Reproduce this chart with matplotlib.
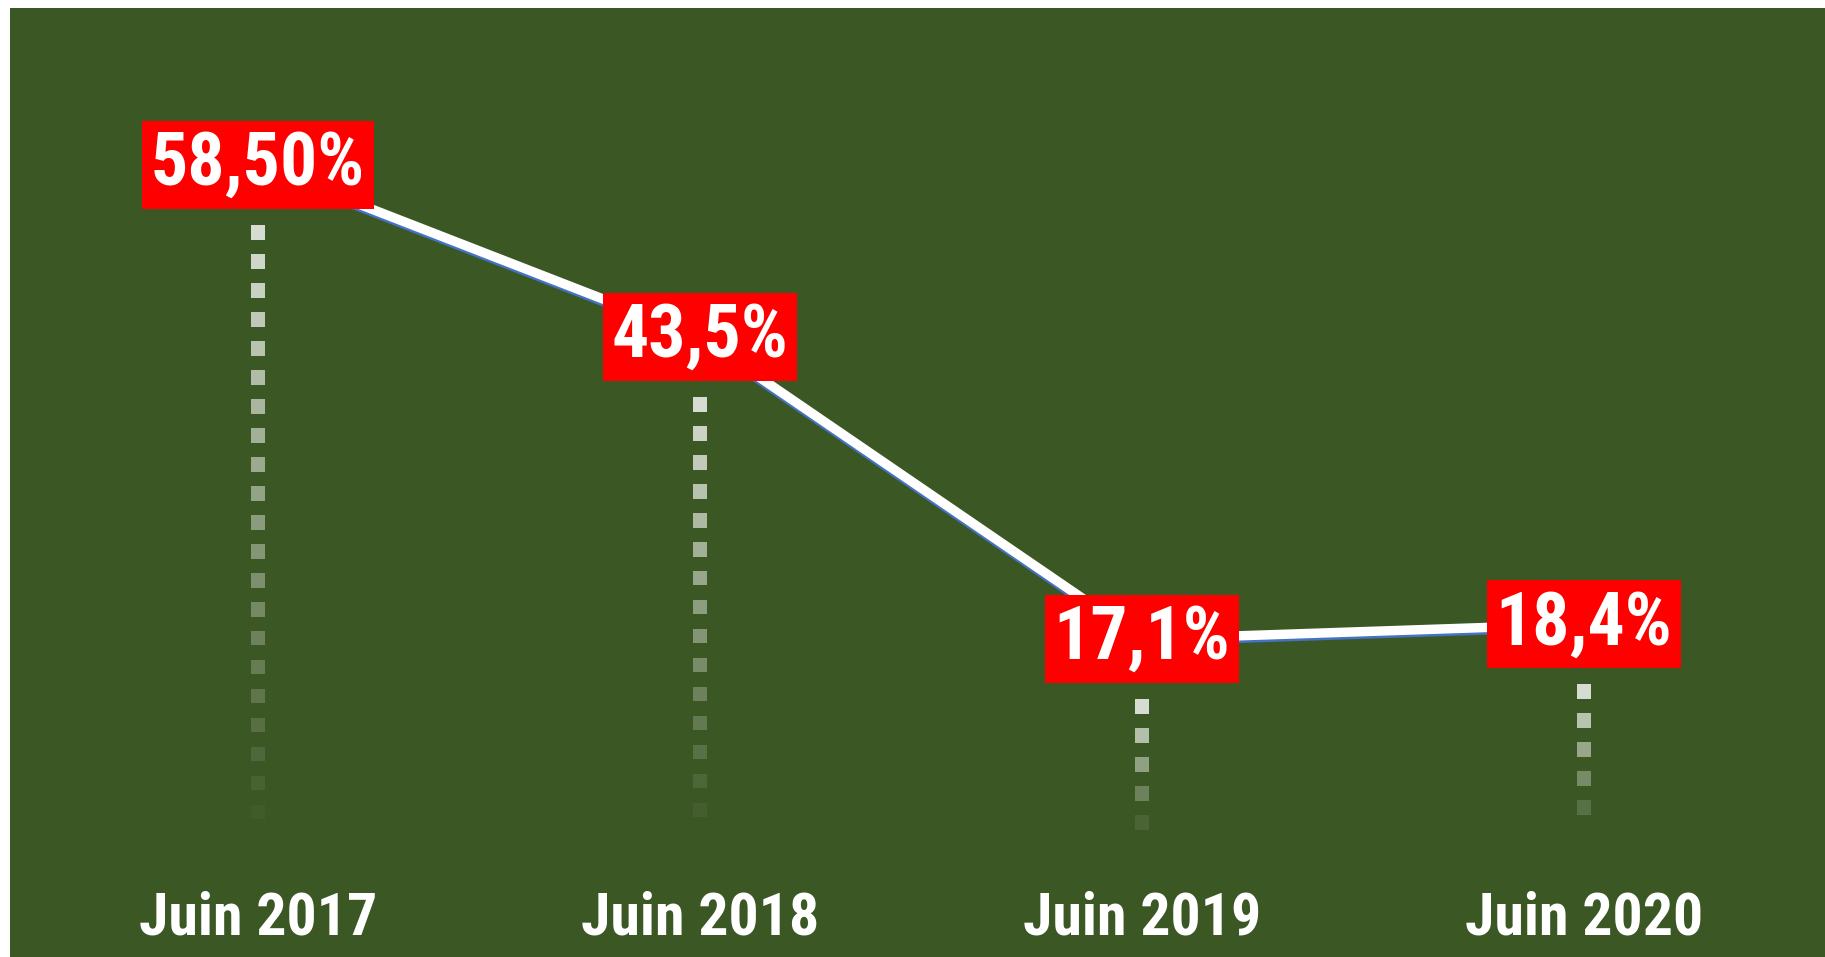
import matplotlib
matplotlib.use("Agg")
import matplotlib.pyplot as plt
import matplotlib.patheffects as pe
from matplotlib import font_manager
import numpy as np

# données
periods = ["Juin 2017", "Juin 2018", "Juin 2019", "Juin 2020"]
values = [58.5, 43.5, 17.1, 18.4]
value_labels = ["58,50%", "43,5%", "17,1%", "18,4%"]

BG = "#3b5724"

# police étroite en gras type Arial Narrow Bold si disponible
bold_fonts = {f.name for f in font_manager.fontManager.ttflist
              if isinstance(f.weight, int) and f.weight >= 700
              or f.weight in ("bold", "heavy", "black")}
prefs = ["Liberation Sans Narrow", "Arial Narrow", "Roboto Condensed", "PT Sans Narrow",
         "Archivo Narrow", "Pragati Narrow", "IBM Plex Sans Condensed"]
FONT = next((f for f in prefs if f in bold_fonts), "Liberation Sans")
plt.rcParams["font.family"] = [FONT, "DejaVu Sans"]

W, H, DPI = 1825, 957, 100
fig = plt.figure(figsize=(W / DPI, H / DPI), dpi=DPI, facecolor="white")
ax = fig.add_axes([10 / W, 0, 1 - 10 / W, 1 - 8 / H])
ax.set_facecolor(BG)
for s in ax.spines.values():
    s.set_visible(False)
ax.set_xticks([])
ax.set_yticks([])

x = np.arange(len(values))
ax.set_xlim(-0.561, 3.545)
ax.set_ylim(-10.66, 72.2)

# lignes de rappel pointillées, en fondu vers le bas
step = 2.53
for xi, v in zip(x, values):
    start = v - 5.9
    ys = np.arange(start, 0.3, -step)
    alphas = 0.88 * ys / start
    cols = [(0.93, 0.94, 0.92, a) for a in alphas]
    ax.scatter(np.full_like(ys, xi), ys, marker="s", s=112, c=cols,
               edgecolors="none", zorder=2)

ax.plot(x, values, color="white", lw=6.8, solid_capstyle="butt", zorder=3,
        path_effects=[pe.SimpleLineShadow(offset=(0, -1.8), shadow_color="#4472c4", alpha=1),
                      pe.Normal()])

for xi, v, lab in zip(x, values, value_labels):
    ax.text(xi, v, lab, ha="center", va="center", color="white", fontsize=53,
            fontweight="bold", zorder=5,
            bbox=dict(boxstyle="square,pad=0.12", fc="#ff0000", ec="none"))

for xi, p in zip(x, periods):
    ax.text(xi, -7.3, p, ha="center", va="center", color="white", fontsize=43,
            fontweight="bold")

fig.savefig("out.png", dpi=DPI, facecolor=fig.get_facecolor())
